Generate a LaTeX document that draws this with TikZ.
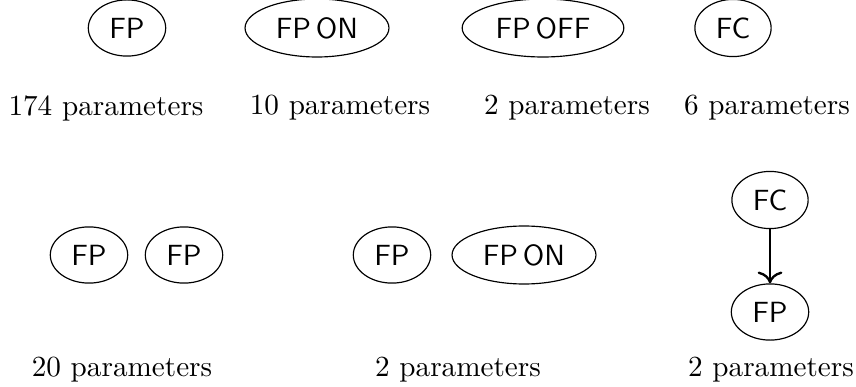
\documentclass[tikz,border=0pt]{standalone}
\usepackage{tikz}
\usetikzlibrary{arrows,arrows.meta,shapes}
\usetikzlibrary{positioning}
\tikzset{block/.style={draw, ellipse, font=\sffamily}}
\begin{document}
\begin{tikzpicture}[x=0.3425pt, y=-0.3425pt]
    \useasboundingbox (0,0) rectangle (856,387);

    % single factors
    \node(fp) [block] at (127, 28) {FP};
    \node(fpon) [block] at (317, 28) {FP\,ON};
    \node(fpoff) [block] at (543, 28) {FP\,OFF};
    \node(fc) [block] at (733, 28) {FC};

    \node(fplabel) [] at (106, 108) {174 parameters};
    \node(fponlabel) [] at (340, 108) {10 parameters};
    \node(fpofflabel) [] at (567, 108) {2 parameters};
    \node(fclabel) [] at (767, 108) {6 parameters};

    % pairs
    \node(pairfp1) [block] at (89, 255) {FP};
    \node(pairfp2) [block] at (184, 255) {FP};

    \node(mixfp) [block] at (392, 255) {FP};
    \node(mixfpon) [block] at (524, 255) {FP\,ON};

    \node(chainfc) [block] at (770, 200) {FC};
    \node(chainfp) [block] at (770, 312) {FP};
    \draw[-{To[scale=1.2]}, thick] (chainfc) -- (chainfp);

    \node(pairlabel) [] at (122, 370) {20 parameters};
    \node(mixlabel) [] at (458, 370) {2 parameters};
    \node(chainlabel) [] at (771, 370) {2 parameters};
\end{tikzpicture}
\end{document}
